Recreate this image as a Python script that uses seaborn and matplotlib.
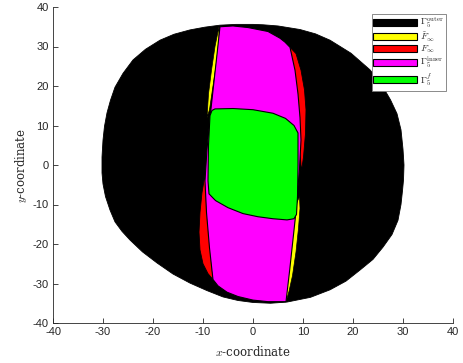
import numpy as np
import matplotlib
matplotlib.use('Agg')
import matplotlib.pyplot as plt
import seaborn as sns
from matplotlib.patches import Patch

# outline points (x, y in plot units)
outer_x = [0, -3.4, -6.6, -9.6, -12.6, -15.8, -18.6, -21.5, -24, -26, -27.6, -28.5, -29.2, -29.7, -30.0,
           -30.2, -30.2, -30.0, -29.5, -28.6, -27.6, -26.2, -24.6, -22.1, -19.2, -16, -12.6, -9.2, -6, -3, 0,
           3.5, 6.8, 11.5, 15.4, 18.6, 21.4, 24, 26, 27.8, 29, 29.6, 29.9, 30.1, 30.2, 30, 29.6, 28.8, 27.5,
           25.6, 23.4, 19.6, 15.4, 12.5, 9.4, 5, 2]
outer_y = [35.6, 35.6, 35.4, 34.9, 34.2, 33.1, 31.6, 29.3, 26.6, 23.2, 19.7, 16.4, 13.2, 9.8, 6.3,
           2, -2, -4.8, -8, -11.4, -14.4, -16.8, -19, -22, -24.8, -27.6, -29.9, -31.8, -33.4, -34.3, -34.8,
           -35, -34.7, -33.5, -31.6, -29.4, -26.6, -23.9, -20.8, -17.6, -14, -10, -6.5, -3.8, 0, 4, 8.9, 13, 16.5,
           20.6, 24.1, 28.3, 31.6, 33.2, 34.3, 35.2, 35.5]

inner_x = [-6.6, -7.2, -7.9, -8.6, -9.2, -9.6, -9.3, -8.7, -8.0, -7.0, -5.2, -3, 0, 3, 6.6,
           7.3, 7.9, 8.5, 8.9, 9.3, 9.6, 9.4, 9.0, 8.4, 7.4, 6.4, 5.4, 3, -1, -4]
inner_y = [35.0, 28, 20, 12, 4, -4, -12, -21, -29, -30.6, -32.2, -33.3, -34.2, -34.6, -34.6,
           -27, -20, -13, -7, -1, 6.3, 12, 18, 24, 29.8, 31.1, 32.1, 33.8, 34.8, 35.2]

tilde_left_x = [-6.8, -7.6, -8.3, -8.9, -9.2, -8.7, -8.0, -7.3, -6.8]
tilde_left_y = [35.0, 30, 24, 18, 12, 14, 20, 26, 32]
tilde_right_x = [9.3, 9.4, 9.1, 8.6, 7.9, 7.2, 6.6, 6.2, 7.2, 8.0, 8.6]
tilde_right_y = [-8, -11, -16, -22, -28, -32, -34.6, -33, -25, -17, -10]

f_right_x = [7.4, 8.6, 9.6, 10.3, 10.6, 10.5, 10.1, 9.7, 9.2, 8.7]
f_right_y = [29.8, 28.2, 24, 19, 14, 8, 2, -1.5, 6, 18]
f_left_x = [-9.6, -10.2, -10.6, -10.8, -10.6, -10.0, -9.0, -8.0, -8.6, -9.3]
f_left_y = [-2.5, -7, -12, -17, -21.5, -25, -27.5, -29, -20, -10]

f5_x = [-7.6, -4, 0, 4, 6.5, 8.2, 9.0, 9.0, 8.9, 8.7, 8.2, 6.8, 4, 1, -2, -5, -7.5, -8.8, -9.0, -8.9, -8.6, -8.2]
f5_y = [14.2, 14.3, 14.0, 13.1, 11.8, 10.0, 8.1, 0, -8, -12.5, -13.6, -13.9, -13.6, -13.1, -12.3, -10.8, -9.0, -7.3, -4, 5, 12.5, 13.8]

labels = [r'$\Gamma_5^{\rm outer}$', r'$\tilde{F}_\infty$', r'$F_\infty$',
          r'$\Gamma_5^{\rm inner}$', r'$\Gamma_5^{f}$']
colors = ['#000000', '#ffff00', '#ff0000', '#ff00ff', '#00ff00']

sns.set_style('ticks')
plt.rcParams['font.family'] = ['Liberation Sans', 'DejaVu Sans']
plt.rcParams['mathtext.fontset'] = 'cm'
plt.rcParams['axes.unicode_minus'] = False

fig = plt.figure(figsize=(4.63, 3.63), dpi=100)
ax = fig.add_axes([53 / 463, 40 / 363, 400 / 463, 316 / 363])

ax.fill(outer_x, outer_y, color=colors[0], ec='black', lw=0.6)
ax.fill(tilde_left_x, tilde_left_y, color=colors[1], ec='black', lw=0.5)
ax.fill(tilde_right_x, tilde_right_y, color=colors[1], ec='black', lw=0.5)
ax.fill(f_right_x, f_right_y, color=colors[2], ec='black', lw=0.6)
ax.fill(f_left_x, f_left_y, color=colors[2], ec='black', lw=0.6)
ax.fill(inner_x, inner_y, color=colors[3], ec='black', lw=0.8)
ax.fill(f5_x, f5_y, color=colors[4], ec='black', lw=0.8)

ax.set_xlim(-40, 40)
ax.set_ylim(-40, 40)
ax.set_xticks(np.arange(-40, 41, 10))
ax.set_yticks(np.arange(-40, 41, 10))
ax.tick_params(direction='in', length=3.5, width=0.6, labelsize=8, colors='#262626', pad=3)
sns.despine(ax=ax)
for s in ['left', 'bottom']:
    ax.spines[s].set_color('#262626')
    ax.spines[s].set_linewidth(0.6)

ax.set_xlabel(r'$x$-coordinate', family='DejaVu Serif', fontsize=8.5, labelpad=6)
ax.set_ylabel(r'$y$-coordinate', family='DejaVu Serif', fontsize=8.5, labelpad=3)

handles = [Patch(facecolor=c, edgecolor='black', lw=0.8) for c in colors]
leg = ax.legend(handles, labels, loc='upper right', bbox_to_anchor=(0.9825, 0.978),
                borderaxespad=0, fontsize=7, handlelength=4.5, handleheight=0.75,
                handletextpad=0.3, labelspacing=0.0, borderpad=0.2,
                fancybox=False, framealpha=1, edgecolor='#777777')
leg.get_frame().set_linewidth(0.6)

fig.savefig('out.png', dpi=100)
